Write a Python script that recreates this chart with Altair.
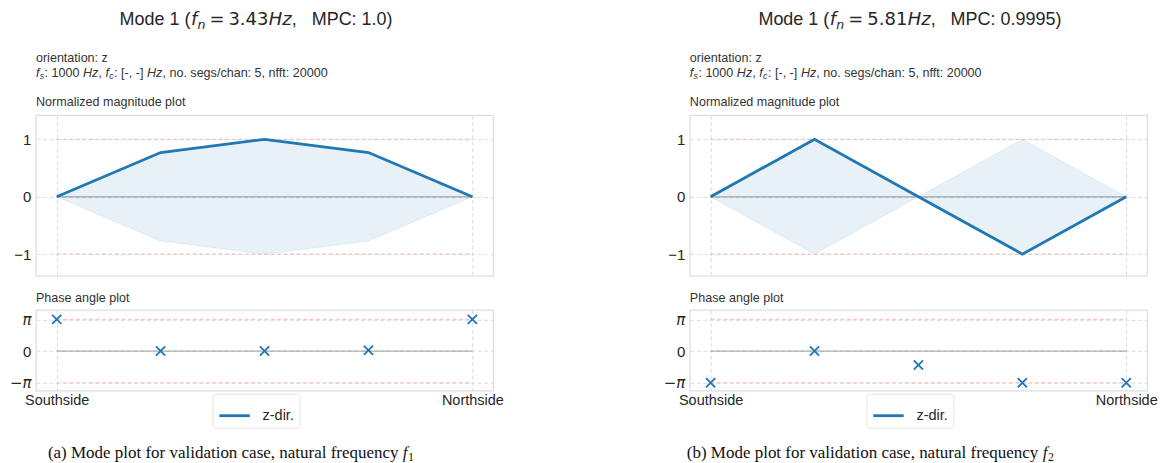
import math
import altair as alt
import pandas as pd

PI = math.pi

# ---------------- data ----------------
positions = [0, 1, 2, 3, 4]
end_labels = ["Southside", "Northside"]
series_name = "z-dir."

freq_a = "3.43"
mpc_a = "1.0"
mag_a = [0.0, 0.77, 1.0, 0.77, 0.0]
phase_a = [PI, 0.0, 0.0, 0.08, PI]
caption_a = "(a) Mode plot for validation case, natural frequency"

freq_b = "5.81"
mpc_b = "0.9995"
mag_b = [0.0, 1.0, 0.0, -1.0, 0.0]
phase_b = [-PI, 0.0, -1.38, -PI, -PI]
caption_b = "(b) Mode plot for validation case, natural frequency"

orientation_text = "orientation: z"
fs_value = ": 1000"
fc_value = ": [-, -]"
seg_text = ", no. segs/chan: 5, nfft: 20000"
mag_heading = "Normalized magnitude plot"
phase_heading = "Phase angle plot"
mag_ticks = [-1, 0, 1]
phase_ticks = [-PI, 0, PI]
mag_limits = [1, -1]
phase_limits = [PI, -PI]

# ---------------- style ----------------
BLUE = "#1f77b4"
RED = "#f3bcbc"
SANS = "Liberation Sans"
MATH = "DejaVu Sans"
SERIF = "Liberation Serif"
TXT = "#333333"
W, HM, HP = 458, 161, 81
XS = alt.Scale(domain=[-0.2, 4.2], nice=False, zero=False)
YM = alt.Scale(domain=[-1.38, 1.42], nice=False, zero=False)
YP = alt.Scale(domain=[-1.25 * PI, 1.3 * PI], nice=False, zero=False)
XPATH = "M-1,-1L1,1M-1,1L1,-1"

ARIAL = {"M": 833, "P": 667, "C": 722, ":": 278, " ": 278, ".": 278, ")": 333}


def arial_width(s, size):
    return sum(ARIAL.get(c, 556) for c in s) * size / 1000.0


def piece(s, x, y, size, font=SANS, style="normal", color=TXT):
    return alt.Chart(alt.Data(values=[{}])).mark_text(
        text=s, align="left", baseline="alphabetic", font=font,
        fontSize=size, fontStyle=style, color=color,
    ).encode(x=alt.value(x), y=alt.value(y))


def title_pieces(freq, mpc):
    tail = "MPC: " + mpc + ")"
    total = 192.5 + arial_width(tail, 18)
    s = 220.5 - total / 2
    y = -90.5
    return [
        piece("Mode 1 (", s, y, 18, color="#262626"),
        piece("f", s + 71.5, y, 18, MATH, "italic", "#262626"),
        piece("n", s + 78.0, y + 4, 12.6, MATH, "italic", "#262626"),
        piece("=", s + 90.0, y, 18, MATH, color="#262626"),
        piece(freq, s + 109.1, y, 18, MATH, color="#262626"),
        piece("Hz", s + 149.5, y, 18, MATH, "italic", "#262626"),
        piece(",", s + 172.5, y, 18, color="#262626"),
        piece(tail, s + 192.5, y, 18, color="#262626"),
    ]


def info_pieces():
    y1, y2 = -53.5, -38.5
    return [
        piece(orientation_text, 0, y1, 12.6),
        piece("f", 0, y2, 12.6, style="italic"),
        piece("s", 3.8, y2 + 2.5, 8.8, style="italic"),
        piece(fs_value, 8.6, y2, 12.6),
        piece("Hz", 47.1, y2, 12.6, style="italic"),
        piece(",", 62.5, y2, 12.6),
        piece("f", 69.6, y2, 12.6, style="italic"),
        piece("c", 73.4, y2 + 2.5, 8.8, style="italic"),
        piece(fc_value, 78.3, y2, 12.6),
        piece("Hz", 111.3, y2, 12.6, style="italic"),
        piece(seg_text, 126.7, y2, 12.6),
        piece(mag_heading, 0, -9, 12.6),
    ]


def caption_pieces(text, x0, fx, sub):
    y = 148
    return [
        piece(text, x0, y, 17, SERIF, color="#111111"),
        piece("f", fx, y, 17, SERIF, "italic", "#111111"),
        piece(sub, fx + 5.2, y + 3, 12, SERIF, color="#111111"),
    ]


def anchor(x, y):
    return alt.Chart(alt.Data(values=[{}])).mark_rect(opacity=0).encode(
        x=alt.value(x), x2=alt.value(x + 1), y=alt.value(y), y2=alt.value(y + 1)
    )


mag_x_axis = alt.Axis(values=[positions[0], positions[-1]], labels=False,
                      ticks=False, domain=False, grid=True, title=None)
phase_x_axis = alt.Axis(values=[positions[0], positions[-1]], ticks=False,
                        domain=False, grid=True, title=None, labelPadding=3,
                        labelFontSize=14.5, labelFont=SANS, labelColor="#262626",
                        labelExpr="datum.value < 1 ? '%s' : '%s'" % tuple(end_labels))
mag_y_axis = alt.Axis(values=mag_ticks, ticks=False, domain=False, grid=True,
                      title=None, labelPadding=5, labelFontSize=15,
                      labelExpr="datum.value < 0 ? '\u2212' + abs(datum.value) : '' + datum.value")
phase_y_axis = alt.Axis(
    values=phase_ticks, ticks=False, domain=False, grid=True, title=None,
    labelPadding=5, labelFontSize=15,
    labelExpr="datum.value > 1 ? '\u03c0' : (datum.value < -1 ? '\u2212\u03c0' : '0')",
    labelFontStyle={"condition": {"test": "abs(datum.value) > 1", "value": "italic"}, "value": "normal"},
    labelFont={"condition": {"test": "abs(datum.value) > 1", "value": MATH}, "value": SANS},
)


def panel(mag, phase, freq, mpc, caption, cap_x, cap_fx, sub, left, right):
    mag_df = pd.DataFrame({
        "pos": positions, "mag": mag,
        "upper": [abs(v) for v in mag], "lower": [-abs(v) for v in mag],
        "series": [series_name] * len(positions),
    })
    ph_df = pd.DataFrame({"pos": positions, "phase": phase})
    mlim = pd.DataFrame({"level": mag_limits, "x0": positions[0], "x1": positions[-1]})
    plim = pd.DataFrame({"level": phase_limits, "x0": positions[0], "x1": positions[-1]})
    zero = pd.DataFrame({"level": [0.0], "x0": [positions[0]], "x1": [positions[-1]]})

    area = alt.Chart(mag_df).mark_area(
        fill=BLUE, fillOpacity=0.1, stroke=BLUE, strokeOpacity=0.1, strokeWidth=1
    ).encode(
        x=alt.X("pos:Q", scale=XS, axis=mag_x_axis),
        y=alt.Y("upper:Q", scale=YM, axis=mag_y_axis),
        y2="lower:Q",
    )
    mrules = alt.Chart(mlim).mark_rule(color=RED, strokeDash=[4, 2.5], strokeWidth=1).encode(
        x=alt.X("x0:Q", scale=XS, axis=mag_x_axis), x2="x1:Q",
        y=alt.Y("level:Q", scale=YM, axis=mag_y_axis),
    )
    mzero = alt.Chart(zero).mark_rule(color="#808080", opacity=0.55, strokeWidth=1.5).encode(
        x=alt.X("x0:Q", scale=XS, axis=mag_x_axis), x2="x1:Q",
        y=alt.Y("level:Q", scale=YM, axis=mag_y_axis),
    )
    line = alt.Chart(mag_df).mark_line(strokeWidth=2.8).encode(
        x=alt.X("pos:Q", scale=XS, axis=mag_x_axis),
        y=alt.Y("mag:Q", scale=YM, axis=mag_y_axis),
        color=alt.Color("series:N", scale=alt.Scale(range=[BLUE]), title=None,
                        legend=alt.Legend(orient="none", legendX=177, legendY=279,
                                          symbolType="stroke", symbolSize=930,
                                          symbolStrokeWidth=2.8, labelFontSize=14.5,
                                          labelFont=SANS, labelColor="#262626",
                                          padding=5, strokeColor="#e4e4e4",
                                          fillColor="#ffffff", cornerRadius=3,
                                          labelOffset=11)),
    )
    mag_layers = [area, mrules, mzero, line] + title_pieces(freq, mpc) + info_pieces()
    if left:
        mag_layers.append(anchor(-35, -114))
    mag_chart = alt.layer(*mag_layers).properties(width=W, height=HM)

    prules = alt.Chart(plim).mark_rule(color=RED, strokeDash=[4, 2.5], strokeWidth=1).encode(
        x=alt.X("x0:Q", scale=XS, axis=phase_x_axis), x2="x1:Q",
        y=alt.Y("level:Q", scale=YP, axis=phase_y_axis),
    )
    pzero = alt.Chart(zero).mark_rule(color="#808080", opacity=0.45, strokeWidth=1.6).encode(
        x=alt.X("x0:Q", scale=XS, axis=phase_x_axis), x2="x1:Q",
        y=alt.Y("level:Q", scale=YP, axis=phase_y_axis),
    )
    pts = alt.Chart(ph_df).mark_point(shape=XPATH, filled=False, size=85,
                                      strokeWidth=1.8, color=BLUE, opacity=1).encode(
        x=alt.X("pos:Q", scale=XS, axis=phase_x_axis),
        y=alt.Y("phase:Q", scale=YP, axis=phase_y_axis),
    )
    ph_layers = [prules, pzero, pts, piece(phase_heading, 0, -7.5, 12.6)]
    ph_layers += caption_pieces(caption, cap_x, cap_fx, sub)
    if right:
        ph_layers.append(anchor(477, 153))
    ph_chart = alt.layer(*ph_layers).properties(width=W, height=HP)
    return mag_chart, ph_chart


mag_ca, ph_ca = panel(mag_a, phase_a, freq_a, mpc_a, caption_a, 12, 367.5, "1", True, False)
mag_cb, ph_cb = panel(mag_b, phase_b, freq_b, mpc_b, caption_b, -3, 353.5, "2", False, True)

chart = alt.concat(
    mag_ca, mag_cb, ph_ca, ph_cb, columns=2,
    spacing={"row": 34, "column": 197}, bounds="flush",
).resolve_scale(
    color="independent"
).properties(
    padding=0, autosize=alt.AutoSizeParams(type="pad"), background="white"
).configure_view(
    stroke="#dedede", strokeWidth=1.25
).configure_axis(
    gridColor="#d9d9d9", gridDash=[4, 2.5], gridWidth=0.9,
    labelColor="#262626", labelFont=SANS,
)

chart.save("out.html", embed_options={"renderer": "svg", "actions": False})
